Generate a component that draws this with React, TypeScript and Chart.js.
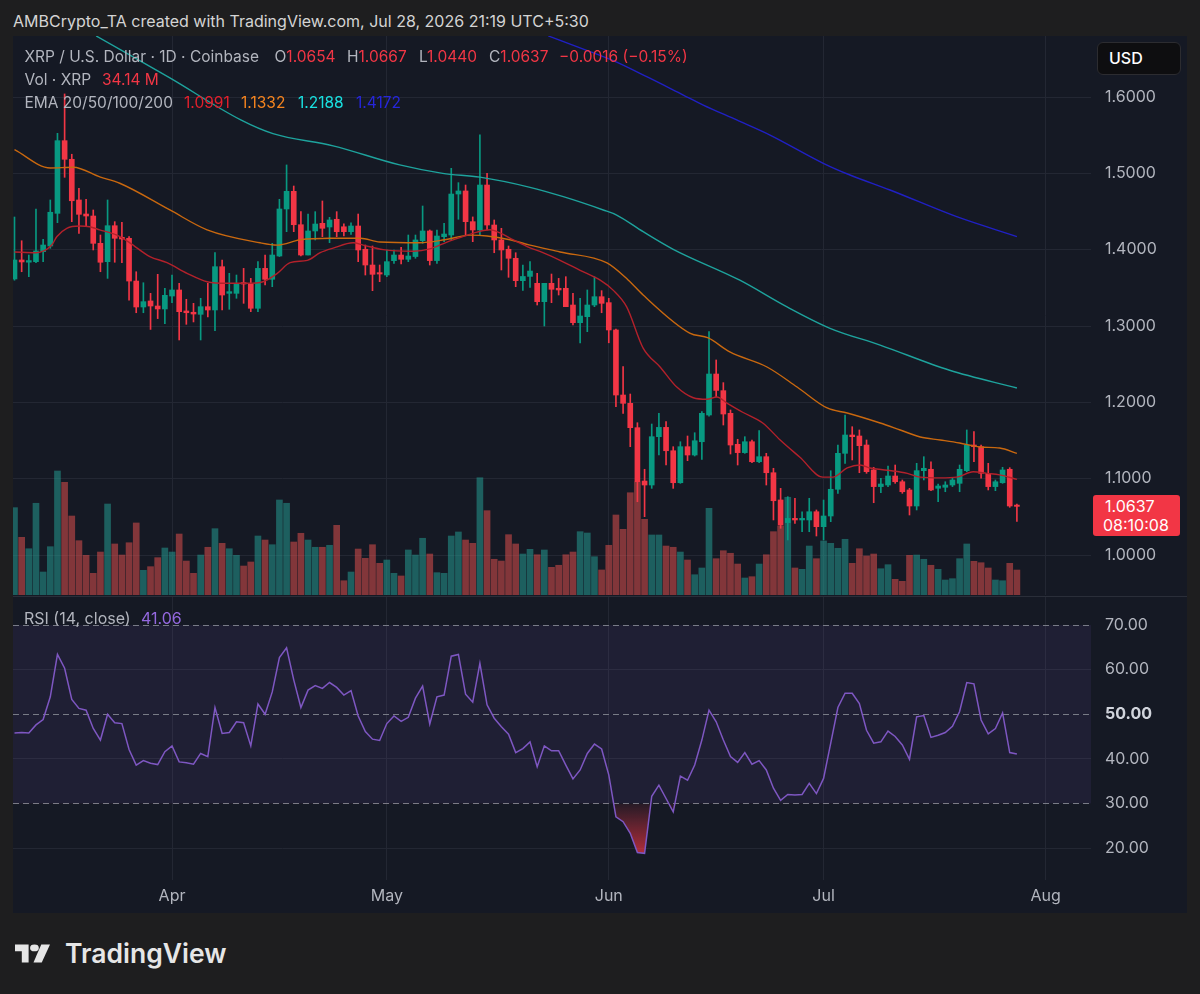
import React, { useEffect, useRef } from 'react';
import { Chart, registerables } from 'chart.js';

Chart.register(...registerables);

// Day index 0 = 10 Mar 2026 ... 140 = 28 Jul 2026 (XRP/USD, 1D, Coinbase)
const opens = [
  1.3616, 1.3865, 1.3836, 1.3843, 1.3974, 1.4048, 1.4476, 1.5428, 1.5184, 1.4651,
  1.4467, 1.4441, 1.4083, 1.3843, 1.4314, 1.4162, 1.4149, 1.3589, 1.3249, 1.3328,
  1.3262, 1.3223, 1.3393, 1.3472, 1.3197, 1.3180, 1.3153, 1.3253, 1.3210, 1.3777,
  1.3428, 1.3428, 1.3568, 1.3559, 1.3232, 1.3755, 1.3612, 1.3917, 1.4533, 1.4764,
  1.4327, 1.3930, 1.4245, 1.4345, 1.4297, 1.4398, 1.4300, 1.4236, 1.4310, 1.4005,
  1.3799, 1.3699, 1.3668, 1.3856, 1.3930, 1.3874, 1.3910, 1.4118, 1.4245, 1.3857,
  1.4170, 1.4192, 1.4729, 1.4769, 1.4367, 1.4258, 1.4847, 1.4323, 1.4127, 1.4005,
  1.3887, 1.3594, 1.3650, 1.3559, 1.3319, 1.3559, 1.3494, 1.3494, 1.3275, 1.3044,
  1.3122, 1.3275, 1.3384, 1.3306, 1.2948, 1.2096, 1.1987, 1.1668, 1.0969, 1.0917,
  1.1550, 1.1672, 1.1366, 1.0947, 1.1419, 1.1310, 1.1484, 1.1834, 1.2371, 1.2153,
  1.1856, 1.1450, 1.1341, 1.1484, 1.1222, 1.1288, 1.1078, 1.0721, 1.0424, 1.0480,
  1.0459, 1.0459, 1.0567, 1.0371, 1.0511, 1.0861, 1.1332, 1.1572, 1.1559, 1.1441,
  1.1114, 1.0896, 1.0917, 1.1035, 1.0960, 1.0852, 1.0642, 1.1105, 1.1123, 1.0874,
  1.0887, 1.0917, 1.0939, 1.1105, 1.1441, 1.1419, 1.1070, 1.0896, 1.0947, 1.1123,
  1.0654,
];
const highs = [
  1.4428, 1.4117, 1.3930, 1.4533, 1.4136, 1.4651, 1.5524, 1.6040, 1.5250, 1.4804,
  1.4660, 1.4520, 1.4192, 1.4651, 1.4367, 1.4358, 1.4170, 1.3711, 1.3567, 1.3428,
  1.3677, 1.3494, 1.3668, 1.3559, 1.3350, 1.3297, 1.3363, 1.3559, 1.3961, 1.3865,
  1.3690, 1.3668, 1.3755, 1.3624, 1.3843, 1.3930, 1.4083, 1.4660, 1.5110, 1.4834,
  1.4498, 1.4467, 1.4498, 1.4638, 1.4424, 1.4498, 1.4340, 1.4350, 1.4467, 1.4061,
  1.4048, 1.3799, 1.3996, 1.3996, 1.4031, 1.4192, 1.4192, 1.4572, 1.4258, 1.4258,
  1.4345, 1.5066, 1.4878, 1.4847, 1.4429, 1.5503, 1.5001, 1.4389, 1.4280, 1.4048,
  1.3960, 1.3799, 1.3843, 1.3690, 1.3559, 1.3681, 1.3624, 1.3646, 1.3428, 1.3363,
  1.3472, 1.3646, 1.3463, 1.3363, 1.2960, 1.2467, 1.2109, 1.1733, 1.1123, 1.1716,
  1.1856, 1.1747, 1.1419, 1.1484, 1.1559, 1.1602, 1.1878, 1.2926, 1.2555, 1.2258,
  1.1900, 1.1516, 1.1550, 1.1506, 1.1629, 1.1332, 1.1136, 1.0873, 1.0764, 1.0743,
  1.0567, 1.0743, 1.0590, 1.0720, 1.1104, 1.1441, 1.1834, 1.1681, 1.1638, 1.1507,
  1.1149, 1.1005, 1.1166, 1.1179, 1.0983, 1.0873, 1.1201, 1.1288, 1.1222, 1.0930,
  1.0960, 1.1005, 1.1179, 1.1638, 1.1616, 1.1441, 1.1201, 1.0983, 1.1149, 1.1144,
  1.0667,
];
const lows = [
  1.3600, 1.3711, 1.3646, 1.3830, 1.3843, 1.4018, 1.4354, 1.4948, 1.4367, 1.4214,
  1.4301, 1.3996, 1.3711, 1.3624, 1.3835, 1.3830, 1.3340, 1.3174, 1.3174, 1.2955,
  1.3097, 1.3031, 1.3306, 1.2817, 1.3022, 1.3053, 1.2817, 1.3119, 1.2938, 1.3210,
  1.3219, 1.3363, 1.3297, 1.3188, 1.3188, 1.3537, 1.3515, 1.3910, 1.4236, 1.4236,
  1.3917, 1.3930, 1.4127, 1.4170, 1.4092, 1.4170, 1.4180, 1.4200, 1.3843, 1.3668,
  1.3463, 1.3581, 1.3646, 1.3821, 1.3812, 1.3843, 1.3887, 1.4083, 1.3799, 1.3821,
  1.4105, 1.4127, 1.4398, 1.4192, 1.4105, 1.4192, 1.4258, 1.3960, 1.3734, 1.3638,
  1.3515, 1.3467, 1.3507, 1.3275, 1.3000, 1.3306, 1.3406, 1.3253, 1.3013, 1.2780,
  1.2926, 1.3253, 1.3174, 1.2780, 1.1943, 1.1856, 1.1419, 1.0698, 1.0502, 1.0873,
  1.1310, 1.1179, 1.0873, 1.0939, 1.1236, 1.1297, 1.1253, 1.1820, 1.2075, 1.1703,
  1.1323, 1.1179, 1.1332, 1.1209, 1.1209, 1.0917, 1.0459, 1.0350, 1.0197, 1.0415,
  1.0305, 1.0305, 1.0249, 1.0197, 1.0437, 1.0808, 1.1201, 1.1245, 1.1078, 1.1070,
  1.0685, 1.0816, 1.0896, 1.0939, 1.0808, 1.0524, 1.0590, 1.0983, 1.0843, 1.0698,
  1.0829, 1.0896, 1.0829, 1.1092, 1.1222, 1.1005, 1.0852, 1.0843, 1.0939, 1.0625,
  1.0440,
];
const closes = [
  1.3865, 1.3839, 1.3857, 1.3983, 1.4061, 1.4490, 1.5428, 1.5184, 1.4641, 1.4463,
  1.4441, 1.4083, 1.3835, 1.4314, 1.4149, 1.4140, 1.3589, 1.3249, 1.3319, 1.3262,
  1.3223, 1.3402, 1.3472, 1.3188, 1.3174, 1.3157, 1.3253, 1.3210, 1.3777, 1.3406,
  1.3450, 1.3559, 1.3550, 1.3232, 1.3755, 1.3612, 1.3930, 1.4533, 1.4764, 1.4327,
  1.3930, 1.4245, 1.4336, 1.4280, 1.4389, 1.4236, 1.4236, 1.4310, 1.3996, 1.3799,
  1.3677, 1.3681, 1.3843, 1.3930, 1.3874, 1.3917, 1.4127, 1.4245, 1.3857, 1.4179,
  1.4205, 1.4729, 1.4769, 1.4367, 1.4258, 1.4847, 1.4323, 1.4127, 1.3996, 1.3887,
  1.3594, 1.3649, 1.3720, 1.3319, 1.3559, 1.3481, 1.3472, 1.3253, 1.3044, 1.3131,
  1.3275, 1.3384, 1.3297, 1.2948, 1.2096, 1.1987, 1.1668, 1.0960, 1.0917, 1.1550,
  1.1672, 1.1366, 1.0947, 1.1419, 1.1310, 1.1497, 1.1856, 1.2371, 1.2156, 1.1847,
  1.1441, 1.1341, 1.1484, 1.1222, 1.1288, 1.1078, 1.0711, 1.0393, 1.0480, 1.0459,
  1.0480, 1.0567, 1.0371, 1.0511, 1.0861, 1.1332, 1.1572, 1.1550, 1.1432, 1.1092,
  1.0896, 1.0930, 1.1035, 1.0960, 1.0829, 1.0642, 1.1105, 1.1136, 1.0852, 1.0904,
  1.0917, 1.0983, 1.1123, 1.1441, 1.1419, 1.1070, 1.0896, 1.0960, 1.1114, 1.0642,
  1.0637,
];
// Volume in millions of XRP
const volumesM = [
  119.3, 78.8, 63.2, 125.3, 31.4, 66.0, 169.4, 153.9, 107.9, 74.2,
  54.2, 29.6, 58.7, 124.3, 69.7, 54.6, 71.4, 98.4, 33.7, 38.7,
  51.0, 64.2, 58.7, 83.3, 46.4, 29.6, 54.6, 65.2, 90.6, 70.6,
  63.2, 54.2, 39.6, 45.1, 80.6, 75.1, 68.7, 129.8, 125.3, 72.4,
  84.3, 75.1, 65.2, 65.2, 67.9, 95.2, 19.5, 31.4, 62.8, 50.1,
  68.7, 43.3, 47.8, 29.6, 26.0, 61.5, 54.6, 77.5, 56.0, 30.5,
  29.6, 80.6, 86.1, 75.1, 70.6, 160.2, 115.2, 48.8, 46.4, 82.4,
  69.7, 56.0, 62.4, 55.0, 61.5, 37.8, 40.6, 55.0, 58.7, 86.5,
  84.7, 52.3, 34.2, 67.9, 109.3, 89.7, 139.7, 154.4, 103.4, 82.0,
  82.0, 66.9, 65.2, 58.7, 47.8, 27.7, 36.9, 118.4, 49.6, 60.5,
  57.0, 42.3, 23.2, 25.0, 42.3, 55.0, 86.5, 94.3, 133.5, 36.9,
  35.1, 66.9, 49.6, 73.8, 70.6, 63.8, 76.1, 43.3, 63.2, 53.3,
  56.0, 35.9, 41.4, 21.4, 18.7, 54.2, 54.6, 48.8, 40.6, 35.1,
  20.5, 22.3, 49.6, 69.7, 46.0, 44.1, 36.9, 20.5, 19.5, 43.3,
  34.14,
];
const rsiValues = [
  45.8, 45.9, 45.8, 47.6, 48.8, 53.9, 63.4, 60.3, 53.3, 51.3,
  50.9, 46.8, 44.2, 50.0, 48.1, 47.9, 42.1, 38.6, 39.6, 39.0,
  38.7, 41.6, 42.9, 39.3, 39.1, 38.8, 41.2, 40.5, 51.5, 45.7,
  45.9, 48.3, 48.1, 42.9, 52.3, 50.0, 55.0, 62.7, 64.9, 57.7,
  51.5, 55.4, 56.4, 55.8, 57.1, 56.0, 54.3, 55.3, 49.6, 46.1,
  44.4, 44.1, 47.9, 49.6, 48.4, 49.3, 53.6, 56.3, 47.8, 53.9,
  54.3, 63.0, 63.4, 54.5, 52.7, 61.4, 52.1, 49.1, 47.2, 45.5,
  41.4, 42.3, 43.8, 38.2, 42.9, 41.8, 41.8, 38.6, 35.5, 37.5,
  41.2, 43.3, 42.2, 36.4, 27.0, 25.9, 23.3, 19.0, 18.8, 31.6,
  34.1, 31.1, 28.1, 36.1, 35.2, 38.6, 44.2, 50.9, 48.3, 44.2,
  40.5, 39.2, 41.4, 38.8, 39.6, 37.5, 33.4, 30.7, 32.0, 31.9,
  32.0, 34.5, 32.2, 35.6, 43.5, 51.5, 54.7, 54.7, 52.4, 46.4,
  43.5, 43.8, 46.2, 45.0, 43.1, 39.9, 49.4, 49.7, 44.8, 45.3,
  45.9, 47.3, 50.6, 57.1, 56.8, 48.7, 45.6, 46.8, 50.3, 41.4,
  41.06,
];
// EMA curves: [day index, value]
const ema20 = [
  [0, 1.397], [3, 1.396], [5.2, 1.406], [5.9, 1.417], [7.3, 1.428], [9.1, 1.431], [10.5, 1.430],
  [11.9, 1.426], [14.3, 1.419], [16.1, 1.409], [18.9, 1.391], [21.3, 1.383], [24.1, 1.369],
  [26.9, 1.358], [29.7, 1.356], [32.5, 1.356], [34.7, 1.358], [36.7, 1.369], [38.5, 1.383],
  [40.9, 1.386], [42.7, 1.396], [44.5, 1.402], [47.3, 1.409], [48.7, 1.406], [51.5, 1.400],
  [55.7, 1.398], [58, 1.401], [60.4, 1.410], [62.6, 1.417], [64.6, 1.423], [66.4, 1.426],
  [67.8, 1.422], [69.6, 1.413], [71.6, 1.404], [73.8, 1.396], [76.2, 1.386], [79, 1.373],
  [81.8, 1.360], [83.6, 1.347], [85.5, 1.325], [87.8, 1.271], [90.2, 1.246], [92.5, 1.220],
  [94.8, 1.206], [96.7, 1.204], [98.1, 1.207], [99.5, 1.199], [101.7, 1.187], [104.5, 1.173],
  [106.9, 1.151], [109.7, 1.128], [112.9, 1.102], [114.3, 1.102], [116.3, 1.114], [118.1, 1.118],
  [119.5, 1.114], [121.9, 1.111], [124.7, 1.107], [126.5, 1.102], [129.3, 1.101], [131.6, 1.102],
  [133.9, 1.109], [135.8, 1.107], [137.6, 1.105], [140, 1.0991],
];
const ema50 = [
  [0, 1.531], [5, 1.507], [8.2, 1.508], [12, 1.495], [14.7, 1.487], [21.7, 1.452], [26.9, 1.426],
  [34.3, 1.409], [36.7, 1.406], [39.9, 1.413], [44.1, 1.415], [48.3, 1.415], [51, 1.410],
  [56.6, 1.409], [60.1, 1.413], [63.6, 1.419], [66, 1.418], [69.2, 1.413], [72, 1.406],
  [76.2, 1.397], [82.75, 1.3826], [85.7, 1.3603], [87.8, 1.3406], [94.3, 1.2908], [96.9, 1.2843],
  [99.9, 1.266], [105.1, 1.2463], [109.3, 1.2201], [113.5, 1.1926], [116.3, 1.186], [120.9, 1.1729],
  [123.7, 1.1638], [126.5, 1.1546], [129.3, 1.1507], [132, 1.1467], [134.8, 1.1415], [137.6, 1.1402],
  [140, 1.1332],
];
const ema100 = [
  [11.4, 1.680], [21.7, 1.625], [31.6, 1.570], [36.1, 1.552], [44.5, 1.536], [53.8, 1.511],
  [59.8, 1.500], [65, 1.495], [72, 1.4817], [76.65, 1.4694], [82.23, 1.452], [84.1, 1.4454],
  [87.8, 1.4236], [92, 1.4005], [101.3, 1.360], [107.9, 1.325], [113.9, 1.297], [120.9, 1.275],
  [130.6, 1.242], [140, 1.2188],
];
const ema200 = [
  [74.55, 1.680], [80.38, 1.6594], [83.63, 1.6476], [88.3, 1.6266], [93.41, 1.6026],
  [96.2, 1.5895], [100.87, 1.5699], [105.52, 1.5502], [112.96, 1.5132], [116.69, 1.4978],
  [122.28, 1.4782], [131.59, 1.4432], [140, 1.4172],
];
const monthTickDays = [22, 52, 83, 113, 144];
const monthTickLabels = ['Apr', 'May', 'Jun', 'Jul', 'Aug'];
const priceTicks = [1.0, 1.1, 1.2, 1.3, 1.4, 1.5, 1.6];
const rsiTicks = [20, 30, 40, 50, 60, 70];
const rsiBandLevels = [70, 50, 30];

const OUTER_BG = '#1e1e1f';
const PANEL_BG = '#151924';
const GRID = '#232733';
const UP = '#089981';
const DOWN = '#f23645';
const UP_VOL = 'rgba(38,166,154,0.5)';
const DOWN_VOL = 'rgba(239,83,80,0.5)';
const AXIS_TEXT = '#b2b5be';
const FONT = 'Inter, "Noto Sans", sans-serif';

const X_MIN = -0.2095;
const X_MAX = 150.35;
const P_MAX = 1.67992;
const P_MIN = 0.9476;
const VOL_MAX = 763.6;
const R_MAX = 76.28;
const R_MIN = 12.825;
const RSI_PLOT_H = 283;

Chart.defaults.font.family = FONT;

const toPts = (arr: number[][]) => arr.map(([x, y]) => ({ x, y }));

function mainConfig(): any {
  const up = closes.map((c, i) => c >= opens[i]);
  const candleColors = up.map((u) => (u ? UP : DOWN));
  const volColors = up.map((u) => (u ? UP_VOL : DOWN_VOL));
  const emaLine = (data: number[][], color: string) => ({
    type: 'line',
    data: toPts(data),
    borderColor: color,
    borderWidth: 1.4,
    pointRadius: 0,
    cubicInterpolationMode: 'monotone',
    yAxisID: 'y',
    order: 0,
  });
  return {
    type: 'bar',
    data: {
      datasets: [
        emaLine(ema20, '#b3212b'),
        emaLine(ema50, '#c9680f'),
        emaLine(ema100, '#1ea39d'),
        emaLine(ema200, '#2020c4'),
        {
          type: 'bar',
          data: opens.map((o, i) => ({ x: i, y: [o, closes[i]] })),
          backgroundColor: candleColors,
          barThickness: 5,
          minBarLength: 1,
          grouped: false,
          yAxisID: 'y',
          order: 1,
        },
        {
          type: 'bar',
          data: lows.map((l, i) => ({ x: i, y: [l, highs[i]] })),
          backgroundColor: candleColors,
          barThickness: 1,
          grouped: false,
          yAxisID: 'y',
          order: 2,
        },
        {
          type: 'bar',
          data: volumesM.map((v, i) => ({ x: i, y: v })),
          backgroundColor: volColors,
          barThickness: 6,
          grouped: false,
          yAxisID: 'yVol',
          order: 3,
        },
      ],
    },
    options: {
      responsive: false,
      animation: false,
      devicePixelRatio: 1,
      events: [],
      layout: { padding: 0 },
      plugins: { legend: { display: false }, tooltip: { enabled: false } },
      scales: {
        x: {
          type: 'linear',
          min: X_MIN,
          max: X_MAX,
          offset: false,
          afterBuildTicks: (s: any) => { s.ticks = monthTickDays.map((v) => ({ value: v })); },
          afterFit: (s: any) => { s.height = 0; s.paddingLeft = 0; s.paddingRight = 0; },
          ticks: { display: false },
          grid: { color: GRID, drawTicks: false, offset: false },
          border: { display: false },
        },
        y: {
          type: 'linear',
          position: 'right',
          min: P_MIN,
          max: P_MAX,
          afterBuildTicks: (s: any) => { s.ticks = priceTicks.map((v) => ({ value: v })); },
          afterFit: (s: any) => { s.width = 96; s.paddingTop = 0; s.paddingBottom = 0; },
          ticks: {
            color: AXIS_TEXT,
            font: { family: FONT, size: 16 },
            padding: 14,
            callback: (v: any) => Number(v).toFixed(4),
          },
          grid: { color: GRID, drawTicks: false },
          border: { display: false },
        },
        yVol: { type: 'linear', display: false, min: 0, max: VOL_MAX },
      },
    },
  };
}

const rsiBand = {
  id: 'rsiBand',
  beforeDatasetsDraw(chart: any) {
    const { ctx, chartArea, scales } = chart;
    const y = scales.y;
    const y70 = y.getPixelForValue(70);
    const y30 = y.getPixelForValue(30);
    ctx.save();
    ctx.fillStyle = 'rgba(126,87,194,0.1)';
    ctx.fillRect(chartArea.left, y70, chartArea.right - chartArea.left, y30 - y70);
    ctx.strokeStyle = '#787b86';
    ctx.lineWidth = 1;
    ctx.setLineDash([6, 4]);
    rsiBandLevels.forEach((lv) => {
      const py = Math.round(y.getPixelForValue(lv)) + 0.5;
      ctx.beginPath();
      ctx.moveTo(chartArea.left, py);
      ctx.lineTo(chartArea.right, py);
      ctx.stroke();
    });
    ctx.restore();
  },
};

function rsiConfig(canvas: HTMLCanvasElement): any {
  const ctx = canvas.getContext('2d') as CanvasRenderingContext2D;
  const yAt = (v: number) => ((R_MAX - v) / (R_MAX - R_MIN)) * RSI_PLOT_H;
  const grad = ctx.createLinearGradient(0, yAt(30), 0, yAt(18));
  grad.addColorStop(0, 'rgba(242,54,69,0.08)');
  grad.addColorStop(1, 'rgba(242,54,69,0.75)');
  return {
    type: 'line',
    data: {
      datasets: [
        {
          data: rsiValues.map((v, i) => ({ x: i, y: v })),
          borderColor: '#7e57c2',
          borderWidth: 1.5,
          pointRadius: 0,
          tension: 0,
          fill: { target: { value: 30 }, above: 'rgba(0,0,0,0)', below: grad },
        },
      ],
    },
    options: {
      responsive: false,
      animation: false,
      devicePixelRatio: 1,
      events: [],
      layout: { padding: 0 },
      plugins: { legend: { display: false }, tooltip: { enabled: false } },
      scales: {
        x: {
          type: 'linear',
          min: X_MIN,
          max: X_MAX,
          offset: false,
          afterBuildTicks: (s: any) => { s.ticks = monthTickDays.map((v) => ({ value: v })); },
          afterFit: (s: any) => { s.height = 33; s.paddingLeft = 0; s.paddingRight = 0; },
          ticks: {
            color: AXIS_TEXT,
            font: { family: FONT, size: 16 },
            padding: 7,
            autoSkip: false,
            maxRotation: 0,
            callback: (v: any) => monthTickLabels[monthTickDays.indexOf(Number(v))],
          },
          grid: { color: GRID, drawTicks: false, offset: false },
          border: { display: false },
        },
        y: {
          type: 'linear',
          position: 'right',
          min: R_MIN,
          max: R_MAX,
          afterBuildTicks: (s: any) => { s.ticks = rsiTicks.map((v) => ({ value: v })); },
          afterFit: (s: any) => { s.width = 96; s.paddingTop = 0; s.paddingBottom = 0; },
          ticks: {
            color: (c: any) => (c.tick && c.tick.value === 50 ? '#d1d4dc' : AXIS_TEXT),
            font: (c: any) => ({ family: FONT, size: 16, weight: c.tick && c.tick.value === 50 ? '700' : '400' }),
            padding: 14,
            callback: (v: any) => Number(v).toFixed(2),
          },
          grid: {
            color: (c: any) => (c.tick && rsiBandLevels.includes(c.tick.value) ? 'rgba(0,0,0,0)' : GRID),
            drawTicks: false,
          },
          border: { display: false },
        },
      },
    },
    plugins: [rsiBand],
  };
}

const txt = (left: number, baseline: number, size: number, color: string, content: any, weight = 400) => (
  <div
    style={{
      position: 'absolute',
      left,
      top: baseline - 0.8625 * size,
      fontSize: size,
      lineHeight: `${size}px`,
      color,
      fontWeight: weight,
      whiteSpace: 'nowrap',
    }}
  >
    {content}
  </div>
);

export default function App() {
  const mainRef = useRef<HTMLCanvasElement>(null);
  const rsiRef = useRef<HTMLCanvasElement>(null);

  useEffect(() => {
    document.body.style.margin = '0';
    document.body.style.background = OUTER_BG;
    const c1 = new Chart(mainRef.current as HTMLCanvasElement, mainConfig());
    const c2 = new Chart(rsiRef.current as HTMLCanvasElement, rsiConfig(rsiRef.current as HTMLCanvasElement));
    return () => {
      c1.destroy();
      c2.destroy();
    };
  }, []);

  const GREY = '#b2b5be';
  const RED = '#f23645';
  const LS = 15.5;
  const ohlc = (left: number, letter: string, value: string) =>
    txt(left, 62.5, LS, GREY, (
      <>
        <span>{letter}</span>
        <span style={{ color: RED }}>{value}</span>
      </>
    ));

  return (
    <div
      style={{
        position: 'relative',
        width: 1200,
        height: 994,
        background: OUTER_BG,
        overflow: 'hidden',
        fontFamily: FONT,
      }}
    >
      {txt(13, 27, 16, '#d4d4d4', 'AMBCrypto_TA created with TradingView.com, Jul 28, 2026 21:19 UTC+5:30')}
      <div style={{ position: 'absolute', left: 13, top: 36, width: 1174, height: 877, background: PANEL_BG }} />
      <canvas ref={mainRef} width={1174} height={559} style={{ position: 'absolute', left: 13, top: 36 }} />
      <div style={{ position: 'absolute', left: 13, top: 596, width: 1174, height: 1, background: '#2a2e39' }} />
      <canvas ref={rsiRef} width={1174} height={316} style={{ position: 'absolute', left: 13, top: 597 }} />

      {txt(24.5, 62.5, LS, GREY, 'XRP / U.S. Dollar · 1D · Coinbase')}
      {ohlc(274.5, 'O', '1.0654')}
      {ohlc(347, 'H', '1.0667')}
      {ohlc(419, 'L', '1.0440')}
      {ohlc(489, 'C', '1.0637')}
      {txt(559, 62.5, LS, RED, '−0.0016 (−0.15%)')}

      {txt(24.5, 85, LS, GREY, 'Vol · XRP')}
      {txt(102, 85, LS, RED, '34.14 M')}

      {txt(24.5, 108, LS, GREY, 'EMA 20/50/100/200')}
      {txt(184, 108, LS, '#e3202c', '1.0991')}
      {txt(241, 108, LS, '#f5841f', '1.1332')}
      {txt(298, 108, LS, '#19e0e0', '1.2188')}
      {txt(356, 108, LS, '#2626dc', '1.4172')}

      {txt(24, 624, 16, GREY, 'RSI (14, close)')}
      {txt(141, 624, 16, '#9468e0', '41.06')}

      <div
        style={{
          position: 'absolute',
          left: 1097,
          top: 42,
          width: 84,
          height: 33,
          boxSizing: 'border-box',
          background: '#0e0e10',
          border: '1px solid #2c2c30',
          borderRadius: 6,
        }}
      />
      {txt(1109, 64, 16, '#ffffff', 'USD', 500)}

      <div
        style={{
          position: 'absolute',
          left: 1093,
          top: 495,
          width: 87,
          height: 41,
          background: DOWN,
          borderRadius: 3,
        }}
      />
      {txt(1105, 511.7, 16, '#ffffff', '1.0637')}
      {txt(1103, 530.7, 16, '#ffffff', '08:10:08')}

      <svg
        width={35}
        height={21}
        viewBox="0 0 36 28"
        preserveAspectRatio="none"
        style={{ position: 'absolute', left: 15, top: 942.5 }}
      >
        <path d="M14 26H7V11H0V2h14v24z" fill="#e6e6e6" />
        <circle cx={20} cy={6.5} r={4.5} fill="#e6e6e6" />
        <path d="M27.5 26h-8.5l8-24h9L27.5 26z" fill="#e6e6e6" />
      </svg>
      {txt(65, 962.5, 26.5, '#e6e6e6', 'TradingView', 600)}
    </div>
  );
}
